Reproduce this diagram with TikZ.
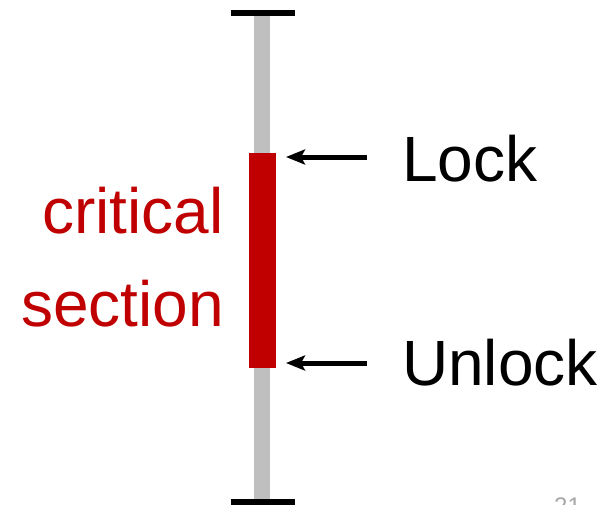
\documentclass[tikz,border=0pt]{standalone}
\usepackage{fontspec}
\setmainfont{Liberation Sans}
\usetikzlibrary{arrows.meta}
\definecolor{critred}{HTML}{C00000}
\definecolor{bargray}{HTML}{BFBFBF}
\definecolor{pagegray}{HTML}{A6A6A6}
\tikzset{
  bigtext/.style={inner sep=0pt, font=\fontsize{64}{70}\selectfont},
  ptr/.style={line width=5pt, -{Stealth[length=19pt,width=15pt,inset=4pt]}},
  endbar/.style={fill=black, draw=none},
}
\begin{document}
\begin{tikzpicture}[x=1pt,y=-1pt]
\useasboundingbox (0,0) rectangle (613,504);
\clip (0,0) rectangle (613,504);
% timeline
\fill[bargray] (254,16) rectangle (270,499);
\fill[endbar] (231,10) rectangle (295,16);
\fill[endbar] (231,499) rectangle (295,505);
% critical section
\node[fill=critred, inner sep=0pt, minimum width=27pt, minimum height=215pt] (crit) at (262.5,260.5) {};
% labels
\node[bigtext, anchor=base west] (lock) at (402,181) {Lock};
\node[bigtext, anchor=base west] (unlock) at (402,385) {Unlock};
\node[bigtext, text=critred, anchor=base east] (crit1) at (224,233) {critical};
\node[bigtext, text=critred, anchor=base east] (crit2) at (224,326) {section};
% arrows
\coordinate (lockTail) at (367,157);
\coordinate (lockTip) at (286,157);
\coordinate (unlockTail) at (367,363);
\coordinate (unlockTip) at (286,363);
\draw[ptr] (lockTail) -- (lockTip);
\draw[ptr] (unlockTail) -- (unlockTip);
% page number (cut off, as in the reference)
\node[inner sep=0pt, text=pagegray, font=\fontsize{24}{28}\selectfont, anchor=base west] (pnum) at (554,514) {21};
\end{tikzpicture}
\end{document}
